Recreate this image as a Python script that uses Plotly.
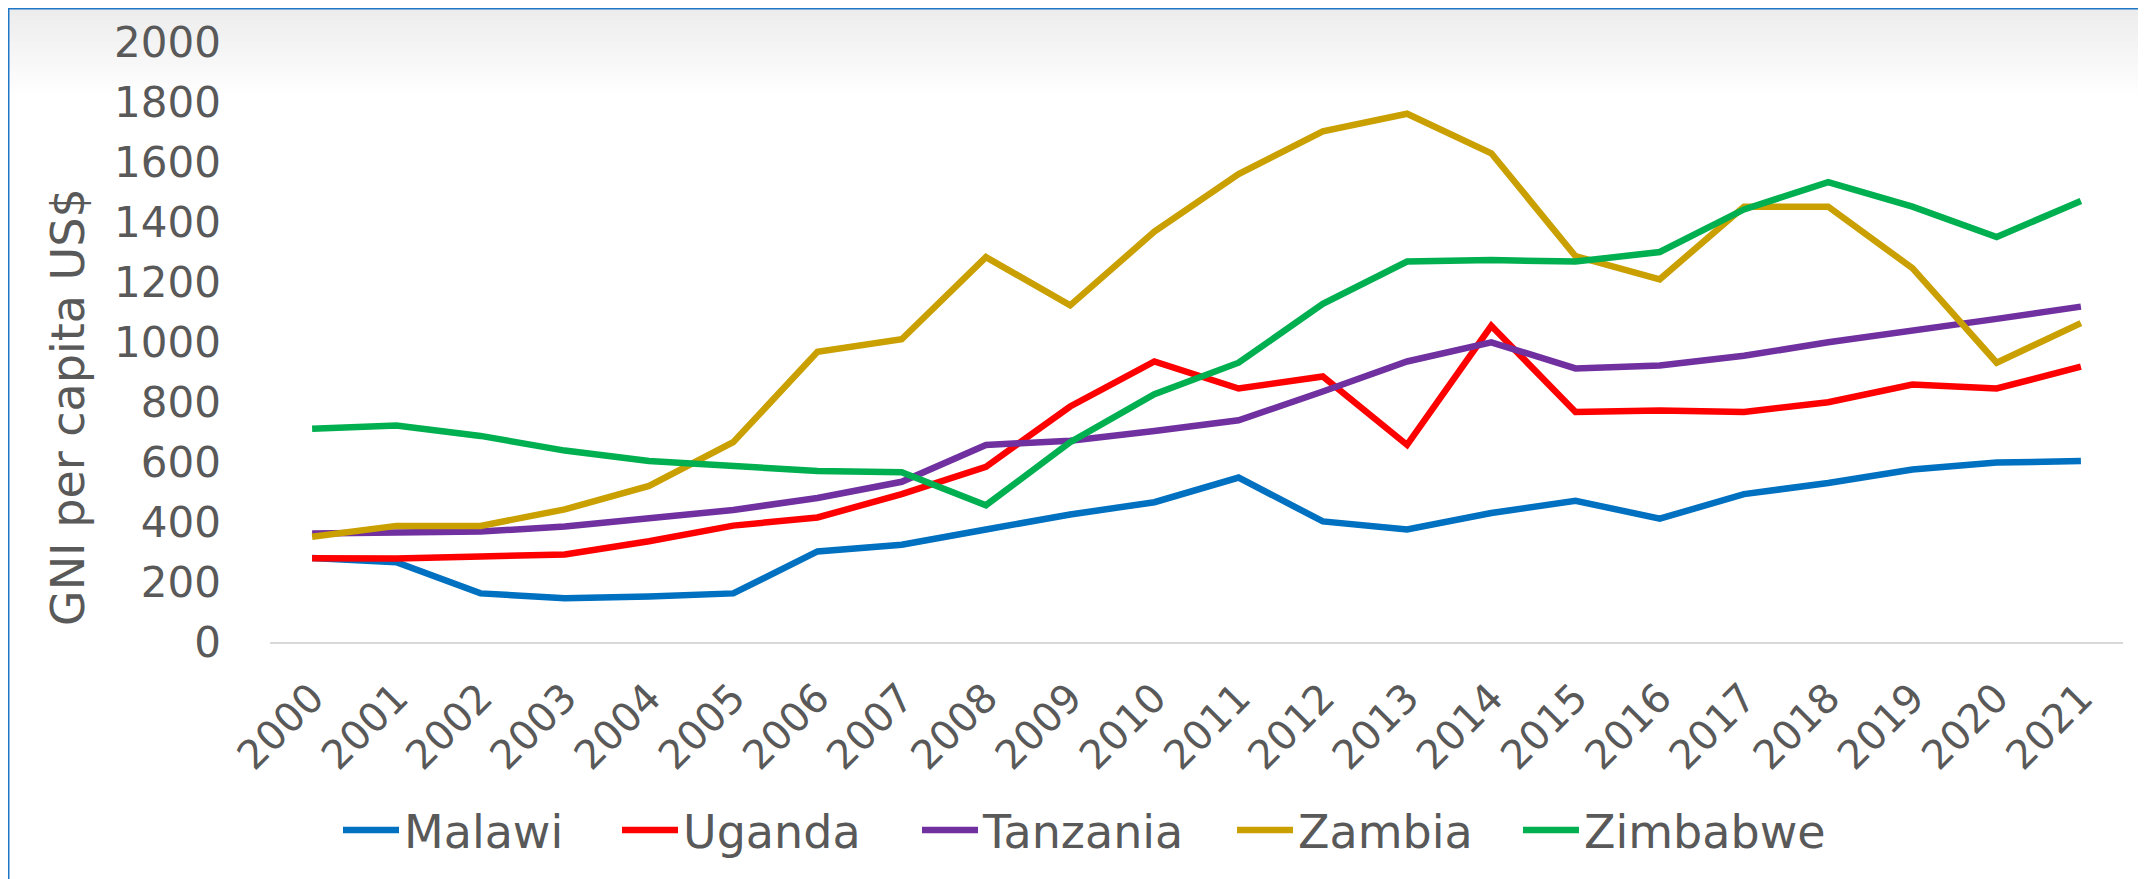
import plotly.graph_objects as go

years = [str(y) for y in range(2000, 2022)]

malawi = [280, 266, 162, 146, 152, 162, 302, 324, 375, 425, 466, 548, 402, 375, 430, 471, 411, 493, 530, 575, 598, 603]
uganda = [279, 278, 285, 292, 336, 388, 415, 493, 584, 785, 935, 845, 885, 657, 1054, 767, 772, 767, 799, 858, 845, 918]
tanzania = [362, 363, 368, 385, 414, 440, 480, 534, 657, 671, 703, 739, 835, 935, 999, 912, 922, 954, 999, 1036, 1077, 1118]
zambia = [351, 387, 387, 442, 520, 666, 967, 1009, 1283, 1122, 1368, 1560, 1702, 1761, 1629, 1286, 1209, 1451, 1451, 1246, 931, 1063]
zimbabwe = [711, 722, 687, 638, 603, 584, 570, 566, 456, 666, 826, 931, 1127, 1268, 1273, 1268, 1300, 1442, 1533, 1451, 1350, 1470]

series_names = ["Malawi", "Uganda", "Tanzania", "Zambia", "Zimbabwe"]
series_values = [malawi, uganda, tanzania, zambia, zimbabwe]
series_colors = ["#0070C0", "#FF0000", "#7030A0", "#C9A000", "#00B050"]

OFF = 8  # default page body margin
W, H = 2146 - OFF, 879 - OFF
L, R, T, B = 270 - OFF, 2123 - OFF, 42 - OFF, 642 - OFF  # plot area in figure pixels

def px(x):
    return (x - L) / (R - L)

def py(y):
    return (B - y) / (B - T)

FONT = "DejaVu Sans"
GREY = "#595959"

legend_ids = ["legend", "legend2", "legend3", "legend4", "legend5"]
legend_line_starts = [343, 622, 922, 1237, 1523]  # screen px, layout only
LEG_D = 5

fig = go.Figure()
for name, vals, col, lid in zip(series_names, series_values, series_colors, legend_ids):
    fig.add_trace(go.Scatter(x=years, y=vals, name=name, mode="lines", legend=lid,
                             line=dict(color=col, width=6.5)))

shapes = []
n = 24
g0, g1 = 236, 255
top, bot = 1, 88
for i in range(n):
    y0 = top + (bot - top) * i / n
    y1 = top + (bot - top) * (i + 1) / n + 0.5
    c = int(round(g0 + (g1 - g0) * (i + 0.5) / n))
    shapes.append(dict(type="rect", xref="paper", yref="paper", x0=px(0), x1=px(W), y0=py(y0), y1=py(y1),
                       fillcolor=f"rgb({c},{c},{c})", line=dict(width=0), layer="below"))
shapes.append(dict(type="line", xref="paper", yref="paper", x0=px(0), x1=px(W), y0=py(0.5), y1=py(0.5),
                   line=dict(color="#1F77C8", width=2)))
shapes.append(dict(type="line", xref="paper", yref="paper", x0=px(0.5), x1=px(0.5), y0=py(0), y1=py(H),
                   line=dict(color="#1F77C8", width=2)))

legend_layouts = {}
for lid, xs in zip(legend_ids, legend_line_starts):
    legend_layouts[lid] = dict(orientation="h", xref="container", yref="container",
                               x=(xs - OFF - LEG_D) / W, xanchor="left",
                               y=1 - 822 / H, yanchor="middle",
                               font=dict(family=FONT, size=46, color=GREY),
                               itemwidth=56, bgcolor="rgba(0,0,0,0)")

fig.update_layout(
    width=W, height=H,
    margin=dict(l=L, r=W - R, t=T, b=H - B),
    paper_bgcolor="white", plot_bgcolor="rgba(0,0,0,0)",
    font=dict(family=FONT, color=GREY, size=42),
    shapes=shapes,
    showlegend=True,
    annotations=[dict(text="GNI per capita US$", xref="paper", yref="paper",
                      x=px(68 - OFF), y=py(407 - OFF), xanchor="center", yanchor="middle",
                      textangle=-90, showarrow=False,
                      font=dict(family=FONT, size=46, color=GREY))],
    **legend_layouts,
)
fig.update_xaxes(type="category", range=[-0.5, 21.5], showgrid=False, zeroline=False,
                 showline=True, linecolor="#d9d9d9", linewidth=2, ticks="",
                 tickangle=-45, tickfont=dict(family=FONT, size=40, color=GREY),
                 ticklabelstandoff=14, automargin=False)
fig.update_yaxes(range=[0, 2000], dtick=200, showgrid=False, zeroline=False, showline=False,
                 ticks="", tickfont=dict(family=FONT, size=42, color=GREY),
                 ticklabelstandoff=48, automargin=False)

fig.write_html("out.html")
